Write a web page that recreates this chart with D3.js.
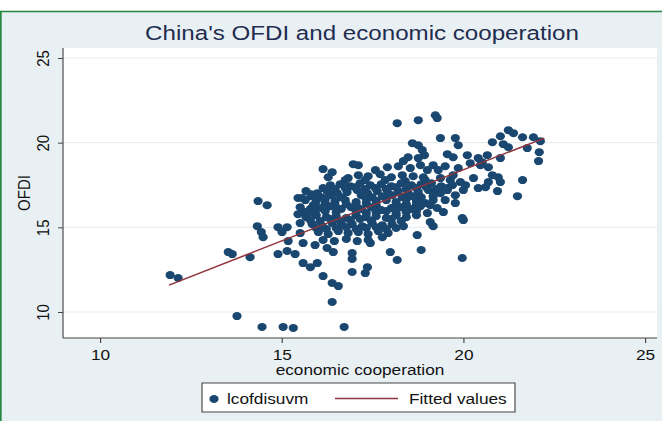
<!DOCTYPE html>
<html>
<head>
<meta charset="utf-8">
<script src="https://cdn.jsdelivr.net/npm/d3@7"></script>
<style>
  body { margin: 0; background: #fff; }
  svg { display: block; }
  text { font-family: "Liberation Sans", Arial, sans-serif; }
</style>
</head>
<body>
<div id="chart"></div>
<script>
const chartTitle = "China's OFDI and economic cooperation";
const xTitle = 'economic cooperation';
const yTitle = 'OFDI';
const xTicks = [10, 15, 20, 25];
const yTicks = [10, 15, 20, 25];
const legendLabels = ['lcofdisuvm', 'Fitted values'];

// fitted line, read at its two ends
const fitX = [11.90, 22.23];
const fitY = [11.59, 20.27];

// [economic cooperation, OFDI]
const points = [
    // stragglers on the left and bottom
    [11.93, 12.18], [12.15, 12.01], [13.77, 9.76], [14.46, 9.12], [15.04, 9.12], [15.32, 9.06], [16.72, 9.12], [16.39, 10.59],
    [13.53, 13.54], [13.64, 13.42], [14.13, 13.24], [14.35, 16.55], [14.60, 16.31], [14.33, 15.07], [14.44, 14.72], [14.49, 14.42],
    [14.90, 15.01], [15.01, 14.72], [15.15, 15.01], [15.18, 14.19], [14.90, 13.42], [15.15, 13.60], [15.37, 13.42],
    [15.59, 12.89], [15.79, 12.65], [15.98, 12.89], [16.14, 12.12], [16.39, 11.71], [16.56, 11.53],
    [15.59, 14.07], [15.92, 13.95], [16.25, 13.78], [16.42, 13.54], [16.94, 13.48], [16.94, 13.13], [16.94, 12.36], [17.36, 12.65], [17.30, 12.30],
    [17.44, 14.07], [17.77, 14.42], [17.99, 13.54], [18.18, 13.07], [18.73, 14.54], [18.84, 13.66], [19.97, 13.19], [20.00, 15.43], [19.09, 15.31], [19.17, 15.07],
    [15.45, 15.78], [15.51, 15.25], [15.51, 14.66], [15.84, 15.90], [15.87, 16.31], [15.45, 16.73], [15.56, 16.73], [15.81, 16.96],
    [16.14, 18.44], [16.28, 17.96], [16.39, 18.26], [16.97, 18.73], [17.11, 18.67],
    // upper and right side
    [18.18, 21.15], [18.76, 21.33], [19.23, 21.62], [19.28, 21.45], [18.60, 19.97], [18.76, 19.85], [18.48, 19.14],
    [19.37, 20.27], [19.78, 20.27], [19.86, 19.85], [18.87, 19.56], [18.93, 19.26],
    [20.80, 20.03], [21.02, 20.38], [21.24, 20.74], [21.38, 20.56], [21.63, 20.32], [21.93, 20.32], [22.12, 20.09], [22.09, 19.44], [22.07, 18.91],
    [21.10, 19.91], [21.24, 19.73], [21.76, 19.68], [20.66, 19.26], [21.02, 19.09],
    [19.56, 19.32], [19.72, 19.14], [20.11, 19.26], [20.41, 19.09], [20.19, 18.79], [20.47, 18.67], [20.69, 18.55], [20.52, 18.85],
    [19.17, 18.67], [19.31, 18.38], [19.01, 18.38],
    [20.80, 18.08], [20.96, 17.96], [21.02, 17.67], [20.69, 17.67], [19.92, 17.67], [20.06, 17.49], [20.28, 17.91], [19.72, 18.08],
    [21.63, 17.79], [21.49, 16.84], [20.41, 17.32], [20.61, 17.37], [20.94, 17.14], [20.00, 17.20], [19.17, 17.08], [19.56, 17.32],
    [19.01, 15.84], [19.45, 15.90], [19.97, 15.55], [19.17, 16.61],
    // dense middle
    [18.35, 18.91], [18.76, 19.09],
    [17.58, 18.38], [17.91, 18.55], [18.21, 18.61], [18.54, 18.50], [18.82, 18.67], [19.50, 18.61], [19.86, 18.50],
    [16.83, 17.91], [17.11, 18.08], [17.38, 18.02], [17.71, 18.14], [18.02, 17.96], [18.32, 18.08], [18.62, 18.02], [18.90, 17.96], [19.37, 17.91], [19.64, 17.79],
    [16.75, 17.79], [17.30, 17.79], [17.85, 17.79], [18.40, 17.73], [18.95, 17.79],
    [16.34, 17.49], [16.61, 17.55], [16.89, 17.43], [17.16, 17.61], [17.44, 17.49], [17.74, 17.55], [18.02, 17.43], [18.29, 17.61], [18.57, 17.49], [18.84, 17.55], [19.12, 17.61], [19.39, 17.43], [19.70, 17.49],
    [16.14, 17.32], [16.47, 17.26], [16.75, 17.32], [17.02, 17.37], [17.30, 17.26], [17.58, 17.32], [17.88, 17.26], [18.15, 17.37], [18.43, 17.26], [18.71, 17.32], [18.98, 17.37], [19.26, 17.26], [19.56, 17.20],
    [15.67, 17.14], [15.98, 17.02], [16.25, 17.14], [16.53, 17.02], [16.80, 17.08], [17.08, 17.20], [17.36, 17.02], [17.63, 17.14], [17.93, 17.02], [18.21, 17.14], [18.48, 17.02], [18.76, 17.08], [19.04, 17.20], [19.37, 17.02], [19.78, 16.90],
    [15.81, 16.84], [16.09, 16.78], [16.36, 16.90], [16.64, 16.78], [17.19, 16.90], [17.49, 16.78], [17.77, 16.84], [18.04, 16.90], [18.32, 16.78], [18.60, 16.84], [18.84, 16.78], [19.17, 16.84],
    [15.65, 16.61], [15.95, 16.55], [16.20, 16.67], [16.47, 16.55], [16.75, 16.61], [17.05, 16.49], [17.33, 16.67], [17.60, 16.55], [17.88, 16.61], [18.15, 16.49], [18.43, 16.67], [18.71, 16.55], [18.95, 16.43], [19.50, 16.61], [19.78, 16.43],
    [15.92, 16.31], [16.20, 16.43], [16.47, 16.31], [16.78, 16.37], [17.05, 16.31], [17.33, 16.43], [17.60, 16.31], [18.15, 16.31], [18.43, 16.37], [18.71, 16.37], [19.09, 16.31],
    [15.51, 16.19], [15.79, 16.08], [16.06, 16.14], [16.34, 16.25], [16.64, 16.08], [16.91, 16.19], [17.19, 16.08], [17.47, 16.19], [17.74, 16.02], [18.02, 16.14], [18.29, 16.19], [18.57, 16.08], [18.82, 16.25], [19.28, 16.14],
    [15.65, 15.90], [15.92, 15.84], [16.20, 15.96], [16.50, 15.90], [17.05, 15.96], [17.33, 15.84], [17.60, 15.90], [17.88, 15.96], [18.15, 15.84], [18.43, 15.90], [18.71, 15.96],
    [15.67, 15.60], [15.95, 15.72], [16.23, 15.60], [16.50, 15.66], [16.78, 15.55], [17.05, 15.72], [17.33, 15.60], [17.60, 15.66], [17.88, 15.55], [18.15, 15.72], [18.43, 15.60], [18.71, 15.72],
    [15.79, 15.43], [16.06, 15.37], [16.34, 15.49], [16.61, 15.37], [16.89, 15.43], [17.16, 15.49], [17.47, 15.37], [18.02, 15.49], [18.29, 15.37],
    [15.84, 15.19], [16.12, 15.07], [16.39, 15.25], [16.67, 15.13], [16.94, 15.19], [17.22, 15.07], [17.49, 15.25], [17.77, 15.13], [18.04, 15.19], [18.35, 15.07],
    [15.95, 14.96], [16.23, 14.90], [16.50, 14.96], [16.78, 15.01], [17.05, 14.90], [17.33, 14.96], [17.60, 15.01], [17.88, 14.90], [18.15, 14.96],
    [16.01, 14.72], [16.28, 14.60], [16.56, 14.78], [16.83, 14.66], [17.11, 14.72], [17.38, 14.60], [17.66, 14.78], [17.93, 14.66],
    [16.14, 14.25], [16.45, 14.19], [16.78, 14.31], [17.08, 14.19], [17.38, 14.25]
];

const navy = '#1a476f';
const maroon = '#90353b';

// the reference picture is stretched sideways, so draw narrower and let the viewBox stretch it
const W = 662, H = 421, K = 1.15;
const sx = v => v / K;
const plot = { left: sx(63), right: sx(657), top: 48, bottom: 338 };

const svg = d3.select('#chart')
    .append('svg')
    .attr('width', W)
    .attr('height', H)
    .attr('viewBox', `0 0 ${W / K} ${H}`)
    .attr('preserveAspectRatio', 'none');

// outer frame
svg.append('rect')
    .attr('x', sx(0.8)).attr('y', 11.5)
    .attr('width', W).attr('height', H)
    .attr('fill', '#e9f0f3')
    .attr('stroke', '#23873f')
    .attr('stroke-width', 1.5);

svg.append('rect')
    .attr('x', plot.left).attr('y', plot.top)
    .attr('width', plot.right - plot.left).attr('height', plot.bottom - plot.top)
    .attr('fill', '#fff');

const x = d3.scaleLinear().domain([10, 25]).range([sx(100), sx(645)]);
const y = d3.scaleLinear().domain([10, 25]).range([312, 58]);

// grid
svg.append('g')
    .selectAll('line')
    .data(yTicks)
    .enter()
    .append('line')
    .attr('x1', plot.left).attr('x2', plot.right)
    .attr('y1', d => y(d)).attr('y2', d => y(d))
    .attr('stroke', '#e6eef2')
    .attr('stroke-width', 1.2);

// axes
const xAxis = svg.append('g')
    .attr('transform', `translate(0,${plot.bottom})`)
    .call(d3.axisBottom(x).tickValues(xTicks).tickSize(5).tickSizeOuter(0));
xAxis.select('.domain').remove();
xAxis.selectAll('line').attr('stroke', '#444');
xAxis.selectAll('text')
    .attr('y', 22).attr('dy', 0)
    .style('font-size', '15px')
    .attr('fill', '#111');

const yAxis = svg.append('g')
    .attr('transform', `translate(${plot.left},0)`)
    .call(d3.axisLeft(y).tickValues(yTicks).tickSize(5 / K).tickSizeOuter(0));
yAxis.select('.domain').remove();
yAxis.selectAll('line').attr('stroke', '#444');
yAxis.selectAll('text')
    .attr('transform', 'rotate(-90)')
    .attr('x', 0).attr('y', -sx(14)).attr('dy', 0)
    .style('text-anchor', 'middle')
    .style('font-size', '15px')
    .attr('fill', '#111');

svg.append('line')
    .attr('x1', plot.left).attr('x2', plot.right)
    .attr('y1', plot.bottom).attr('y2', plot.bottom)
    .attr('stroke', '#444');
svg.append('line')
    .attr('x1', plot.left).attr('x2', plot.left)
    .attr('y1', plot.top).attr('y2', plot.bottom)
    .attr('stroke', '#444');

// scatter
svg.append('g')
    .selectAll('circle')
    .data(points)
    .enter()
    .append('circle')
    .attr('cx', d => x(d[0]))
    .attr('cy', d => y(d[1]))
    .attr('r', 4)
    .attr('fill', navy);

// fitted values
const line = d3.line()
    .x(d => x(d[0]))
    .y(d => y(d[1]));

svg.append('path')
    .datum(fitX.map((v, i) => [v, fitY[i]]))
    .attr('fill', 'none')
    .attr('stroke', maroon)
    .attr('stroke-width', 1.5)
    .attr('d', line);

// titles
svg.append('text')
    .attr('x', sx(362)).attr('y', 40)
    .style('text-anchor', 'middle')
    .style('font-size', '21px')
    .attr('fill', '#1f2d50')
    .text(chartTitle);

svg.append('text')
    .attr('x', (plot.left + plot.right) / 2).attr('y', 375)
    .style('text-anchor', 'middle')
    .style('font-size', '15px')
    .attr('fill', '#111')
    .text(xTitle);

svg.append('text')
    .attr('transform', `translate(${sx(30)},${(plot.top + plot.bottom) / 2}) rotate(-90)`)
    .style('text-anchor', 'middle')
    .style('font-size', '15px')
    .attr('fill', '#111')
    .text(yTitle);

// legend
const legend = svg.append('g');
legend.append('rect')
    .attr('x', sx(202)).attr('y', 383)
    .attr('width', sx(515 - 202)).attr('height', 29)
    .attr('fill', '#fff')
    .attr('stroke', '#333')
    .attr('stroke-width', 0.9);
legend.append('circle')
    .attr('cx', sx(214)).attr('cy', 399)
    .attr('r', 4)
    .attr('fill', navy);
legend.append('text')
    .attr('x', sx(227)).attr('y', 404)
    .style('font-size', '15px')
    .attr('fill', '#111')
    .text(legendLabels[0]);
legend.append('line')
    .attr('x1', sx(335)).attr('x2', sx(398))
    .attr('y1', 398.5).attr('y2', 398.5)
    .attr('stroke', maroon)
    .attr('stroke-width', 1.5);
legend.append('text')
    .attr('x', sx(409)).attr('y', 404)
    .style('font-size', '15px')
    .attr('fill', '#111')
    .text(legendLabels[1]);
</script>
</body>
</html>
